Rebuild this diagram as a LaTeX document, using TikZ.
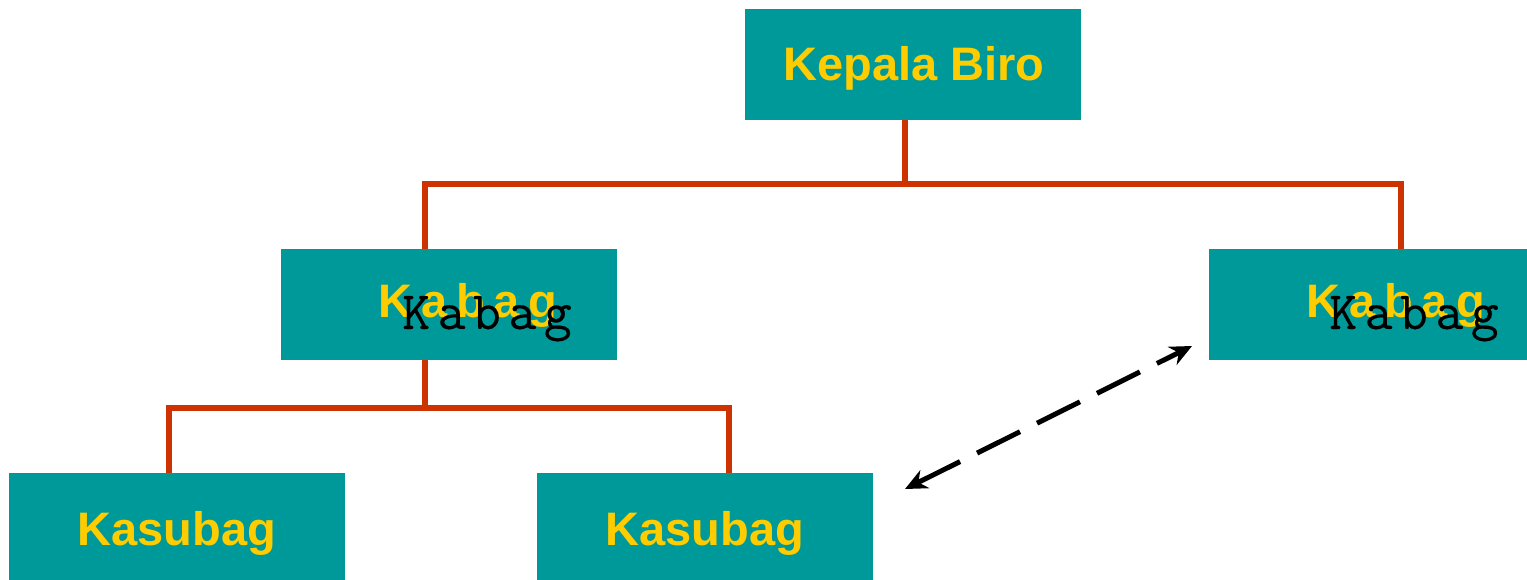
\documentclass[tikz,border=0pt]{standalone}
\usepackage{fontspec}
\setmainfont{Liberation Sans}
\newfontfamily\arialb[LetterSpace=0]{Liberation Sans Bold}
\newfontfamily\arialbsp[LetterSpace=19]{Liberation Sans Bold}
\newfontfamily\monosp[LetterSpace=14,FakeBold=0.3]{Latin Modern Mono}
\usetikzlibrary{arrows.meta}
\definecolor{teal1}{HTML}{009999}
\definecolor{yel1}{HTML}{FFCC00}
\definecolor{org1}{HTML}{CC3300}
\tikzset{
  box/.style={fill=teal1,draw=none,minimum width=#1,inner sep=0pt},
  ylab/.style={text=yel1,inner sep=0pt,anchor=base,font=\arialb\fontsize{47}{47}\selectfont},
  ylabsp/.style={text=yel1,inner sep=0pt,anchor=base,font=\arialbsp\fontsize{47}{47}\selectfont},
  blab/.style={text=black,inner sep=0pt,anchor=base,font=\monosp\fontsize{54}{54}\selectfont},
  conn/.style={draw=org1,line width=6pt},
  rel/.style={draw=black,line width=5pt,dash pattern=on 48pt off 19pt,{Stealth[length=22pt,width=20pt]}-{Stealth[length=22pt,width=20pt]}},
}
\begin{document}
\begin{tikzpicture}[x=1pt,y=-1pt]
\useasboundingbox (0,0) rectangle (1527,580);
% boxes
\node[box=336pt,minimum height=111pt] (kb) at (913,64.5) {};
\node[box=336pt,minimum height=111pt] (k1) at (449,304.5) {};
\node[box=318pt,minimum height=111pt] (k2) at (1368,304.5) {};
\node[box=336pt,minimum height=107pt] (s1) at (177,526.5) {};
\node[box=336pt,minimum height=107pt] (s2) at (705,526.5) {};
% labels
\node[ylab] (tkb) at (914,81) {Kepala Biro};
\node[ylabsp] (tk1) at (468,317) {Kabag};
\node[ylabsp] (tk2) at (1396,317) {Kabag};
\node[blab] (bk1) at (487,329) {Kabag};
\node[blab] (bk2) at (1414,329) {Kabag};
\node[ylab] (ts1) at (177,545) {Kasubag};
\node[ylab] (ts2) at (705,545) {Kasubag};
% junctions
\coordinate (j0) at (905,184);
\coordinate (jl) at (425,184);
\coordinate (jr) at (1401,184);
\coordinate (m0) at (425,408);
\coordinate (ml) at (169,408);
\coordinate (mr) at (729,408);
% connectors
\draw[conn] (j0 |- kb.south) -- (j0);
\draw[conn,line cap=rect] (jl) -- (jr);
\draw[conn] (jl) -- (jl |- k1.north);
\draw[conn] (jr) -- (jr |- k2.north);
\draw[conn] (m0 |- k1.south) -- (m0);
\draw[conn,line cap=rect] (ml) -- (mr);
\draw[conn] (ml) -- (ml |- s1.north);
\draw[conn] (mr) -- (mr |- s2.north);
% relation
\coordinate (a1) at (905,489);
\coordinate (a2) at (1192,346);
\draw[rel] (a1) -- (a2);
\end{tikzpicture}
\end{document}
